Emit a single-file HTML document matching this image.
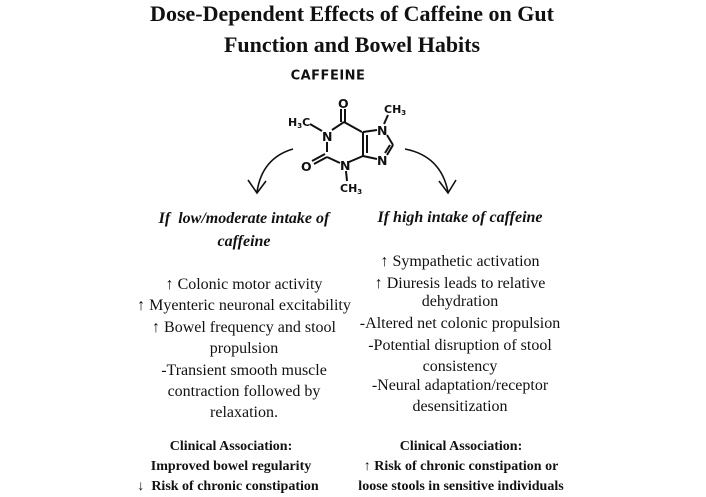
<!DOCTYPE html>
<html><head><meta charset="utf-8"><style>
html,body{margin:0;padding:0;background:#fff;}
body{width:706px;height:497px;position:relative;overflow:hidden;font-family:"Liberation Serif",serif;color:#111;}
.l{position:absolute;white-space:nowrap;transform:translate(-50%,-50%);line-height:1;}
.t{font-weight:bold;font-size:22px;}
.n{font-size:16px;}
.i{font-size:16px;font-weight:bold;font-style:italic;}
.c{font-size:14px;font-weight:bold;}
</style></head><body>
<div class="l t" style="left:352px;top:14px">Dose-Dependent Effects of Caffeine on Gut</div>
<div class="l t" style="left:352px;top:45px">Function and Bowel Habits</div>
<div class="l" style="left:328px;top:76px;font-family:'DejaVu Sans',sans-serif;font-weight:bold;font-size:13px;letter-spacing:0.5px">CAFFEINE</div>
<svg width="706" height="497" style="position:absolute;left:0;top:0" font-family="DejaVu Sans, sans-serif" font-size="11" font-weight="bold" fill="#111">
<g stroke="#111" stroke-width="2" fill="none">
<line x1="345" y1="109" x2="345" y2="122"/><line x1="341" y1="109" x2="341" y2="122"/>
<line x1="344" y1="122" x2="362" y2="132"/>
<line x1="344" y1="122" x2="332" y2="130"/>
<line x1="310" y1="124" x2="322" y2="131"/>
<line x1="327" y1="142" x2="327" y2="152"/>
<line x1="327" y1="157" x2="340" y2="163"/>
<line x1="327" y1="157" x2="314" y2="164"/><line x1="325" y1="154" x2="312" y2="161"/>
<line x1="349" y1="162" x2="363" y2="156"/>
<line x1="363" y1="132" x2="363" y2="156"/><line x1="367" y1="135" x2="367" y2="153"/>
<line x1="363" y1="132" x2="377" y2="130"/>
<line x1="363" y1="156" x2="377" y2="159"/>
<line x1="387" y1="135" x2="393" y2="145"/><line x1="393" y1="145" x2="387" y2="155"/><line x1="390" y1="145" x2="385" y2="153"/>
<line x1="384" y1="124" x2="388" y2="115"/>
<line x1="346" y1="171" x2="347" y2="181"/>
</g>
<g stroke="#111" stroke-width="1.6" fill="none">
<path d="M293 149 Q262 158 257 192"/>
<path d="M248 180 L257 193 L266 181"/>
<path d="M405 149 Q441 156 448 192"/>
<path d="M439 181 L448 193 L456 180"/>
</g>
<text x="338" y="108" font-size="12.5">O</text>
<text x="384" y="113">CH<tspan font-size="7" dy="2">3</tspan></text>
<text x="288" y="126">H<tspan font-size="7" dy="2">3</tspan><tspan dy="-2">C</tspan></text>
<text x="322" y="141" font-size="12.5">N</text>
<text x="377" y="135" font-size="12.5">N</text>
<text x="377" y="165" font-size="12.5">N</text>
<text x="340" y="170" font-size="12.5">N</text>
<text x="301" y="171" font-size="12.5">O</text>
<text x="340" y="192">CH<tspan font-size="7" dy="2">3</tspan></text>
</svg>
<div class="l i" style="left:244px;top:219px">If&nbsp; low/moderate intake of</div>
<div class="l i" style="left:244px;top:242px">caffeine</div>
<div class="l i" style="left:460px;top:218px">If high intake of caffeine</div>

<div class="l n" style="left:244px;top:285px">↑ Colonic motor activity</div>
<div class="l n" style="left:244px;top:306px">↑ Myenteric neuronal excitability</div>
<div class="l n" style="left:244px;top:328px">↑ Bowel frequency and stool</div>
<div class="l n" style="left:244px;top:349px">propulsion</div>
<div class="l n" style="left:244px;top:371px">-Transient smooth muscle</div>
<div class="l n" style="left:244px;top:392px">contraction followed by</div>
<div class="l n" style="left:244px;top:413px">relaxation.</div>

<div class="l n" style="left:460px;top:262px">↑ Sympathetic activation</div>
<div class="l n" style="left:460px;top:284px">↑ Diuresis leads to relative</div>
<div class="l n" style="left:460px;top:302px">dehydration</div>
<div class="l n" style="left:460px;top:324px">-Altered net colonic propulsion</div>
<div class="l n" style="left:460px;top:346px">-Potential disruption of stool</div>
<div class="l n" style="left:460px;top:367px">consistency</div>
<div class="l n" style="left:460px;top:386px">-Neural adaptation/receptor</div>
<div class="l n" style="left:460px;top:407px">desensitization</div>

<div class="l c" style="left:231px;top:447px">Clinical Association:</div>
<div class="l c" style="left:231px;top:467px">Improved bowel regularity</div>
<div class="l c" style="left:228px;top:487px">↓&nbsp; Risk of chronic constipation</div>
<div class="l c" style="left:461px;top:447px">Clinical Association:</div>
<div class="l c" style="left:461px;top:467px">↑ Risk of chronic constipation or</div>
<div class="l c" style="left:461px;top:487px">loose stools in sensitive individuals</div>
</body></html>
